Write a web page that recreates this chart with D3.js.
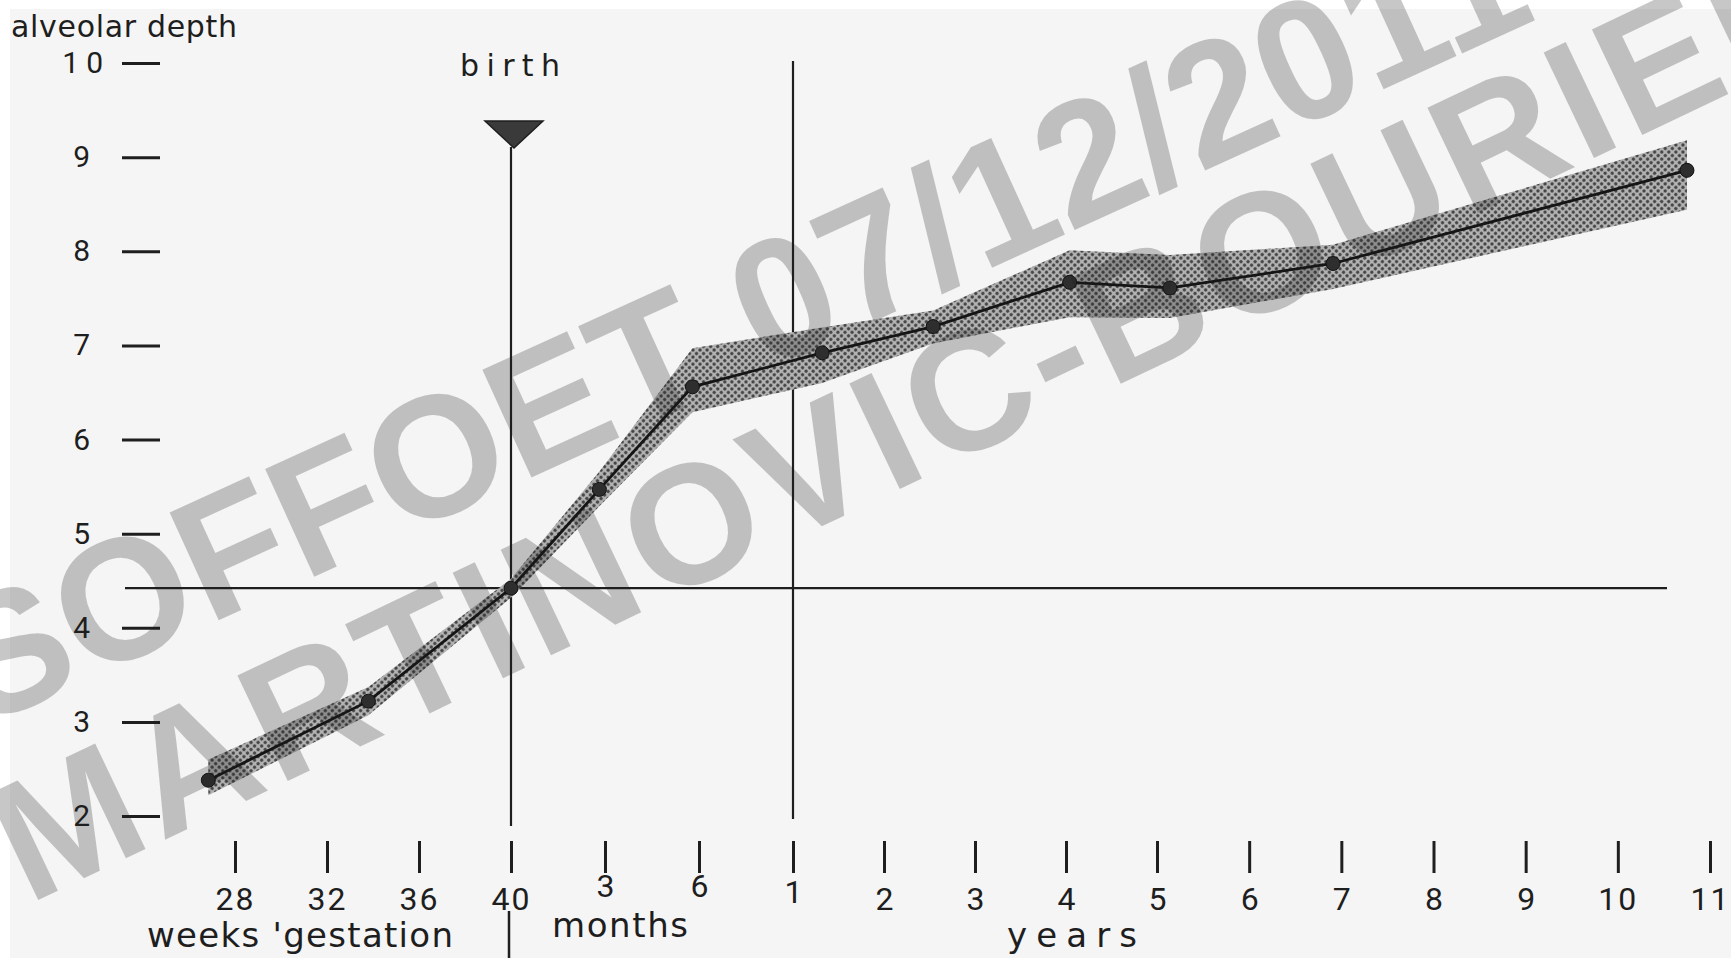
<!DOCTYPE html>
<html>
<head>
<meta charset="utf-8">
<script src="https://cdn.jsdelivr.net/npm/d3@7"></script>
<style>
  html, body { margin: 0; padding: 0; background: #ffffff; }
  svg { display: block; }
  text { font-family: "DejaVu Sans", sans-serif; fill: #1e1e1e; }
</style>
</head>
<body>
<svg id="chart" width="1731" height="958"></svg>
<script>
// ---------- data ----------
const xTickLabels = ["28","32","36","40","3","6","1","2","3","4","5","6","7","8","9","10","11"];
const yTickValues = [2,3,4,5,6,7,8,9,10];
// age position expressed in axis tick units (0 = 28 weeks, 3 = 40 weeks / birth, 6 = 1 year, 16 = 11 years)
const agePos   = [-0.29, 1.45, 3.00, 3.94, 4.93, 6.32, 7.54, 9.04, 10.14, 11.91, 15.75];
const depth    = [2.38, 3.22, 4.42, 5.47, 6.56, 6.92, 7.20, 7.67, 7.61, 7.87, 8.86];
const depthHi  = [2.60, 3.37, 4.52, 5.66, 6.97, 7.19, 7.37, 8.01, 7.96, 8.07, 9.18];
const depthLo  = [2.22, 3.07, 4.32, 5.29, 6.29, 6.60, 7.02, 7.30, 7.29, 7.60, 8.44];
const birthPos = 3;      // 40 weeks
const oneYearPos = 6;    // 1 year
const birthDepth = 4.42;
const yTitle = "alveolar depth";
const xTitles = ["weeks 'gestation", "months", "years"];
const birthLabel = "birth";
const watermark = ["SOFFOET 07/12/2011", "MARTINOVIC-BOURIER"];

// ---------- setup ----------
const svg = d3.select("#chart");
const W = 1731, H = 958;

// hand-drawn axis: tick spacing is not perfectly uniform, so use a polylinear scale
const x = d3.scaleLinear().domain([0, 3, 6, 9, 10, 16]).range([235, 511, 793, 1066, 1157, 1710]);
const y = d3.scaleLinear().domain([2, 10]).range([816, 63]);

// paper
svg.append("rect").attr("x", 0).attr("y", 0).attr("width", W).attr("height", H).attr("fill", "#ffffff");
svg.append("rect").attr("x", 10).attr("y", 9).attr("width", W - 10).attr("height", H - 9).attr("fill", "#f5f5f5");

// halftone pattern for the band
const defs = svg.append("defs");
const pat = defs.append("pattern")
  .attr("id", "halftone").attr("patternUnits", "userSpaceOnUse")
  .attr("width", 5).attr("height", 5)
  .attr("patternTransform", "rotate(45)");
pat.append("rect").attr("width", 5).attr("height", 5).attr("fill", "#b3b3b3");
pat.append("circle").attr("cx", 2.5).attr("cy", 2.5).attr("r", 1.65).attr("fill", "#444444");

// ---------- y axis (dashes + labels) ----------
const yAxis = d3.axisLeft(y).tickValues(yTickValues).tickSize(38).tickPadding(32)
  .tickFormat(d3.format("d"));
const gy = svg.append("g").attr("transform", "translate(160,0)").call(yAxis);
gy.select(".domain").remove();
gy.selectAll(".tick line").attr("stroke", "#1e1e1e").attr("stroke-width", 3);
gy.selectAll(".tick text")
  .attr("font-size", 30).attr("fill", "#1e1e1e")
  .style("font-family", "Roboto, 'DejaVu Sans', sans-serif")
  .attr("dx", d => d === 10 ? 20 : 0)
  .attr("letter-spacing", d => d === 10 ? 7 : 0);

svg.append("text").attr("x", 11).attr("y", 37)
  .attr("font-size", 30).attr("textLength", 226).attr("lengthAdjust", "spacing").text(yTitle);

// ---------- x axis (vertical tick bars + labels) ----------
const xAxis = d3.axisBottom(x).tickValues(d3.range(xTickLabels.length)).tickSize(0)
  .tickFormat(i => xTickLabels[i]).tickPadding(0);
const gx = svg.append("g").attr("transform", "translate(0,841)").call(xAxis);
gx.select(".domain").remove();
gx.selectAll(".tick line").remove();
gx.selectAll(".tick").append("line")
  .attr("x1", 0).attr("x2", 0).attr("y1", 0).attr("y2", 32)
  .attr("stroke", "#1e1e1e").attr("stroke-width", 3);
// month labels sit a little higher in the original lettering
gx.selectAll(".tick text")
  .attr("y", i => (i === 4 || i === 5) ? 56 : (i === 6 ? 62 : 69)).attr("dy", null)
  .attr("font-size", 32).attr("fill", "#1e1e1e")
  .style("font-family", "Roboto, 'DejaVu Sans', sans-serif")
  .attr("letter-spacing", (d) => xTickLabels[d].length > 1 ? 2 : 0);

svg.append("text").attr("x", 147).attr("y", 947).attr("font-size", 34)
  .attr("textLength", 306).attr("lengthAdjust", "spacing").text(xTitles[0]);
svg.append("text").attr("x", 552).attr("y", 937).attr("font-size", 34)
  .attr("textLength", 136).attr("lengthAdjust", "spacing").text(xTitles[1]);
svg.append("text").attr("x", 1007).attr("y", 947).attr("font-size", 34)
  .attr("textLength", 130).attr("lengthAdjust", "spacing").text(xTitles[2]);
// separator under 40
svg.append("line").attr("x1", x(birthPos) - 2).attr("x2", x(birthPos) - 2).attr("y1", 911).attr("y2", 958)
  .attr("stroke", "#1e1e1e").attr("stroke-width", 2.5);

// ---------- reference lines ----------
svg.append("line").attr("x1", 125).attr("x2", 1667).attr("y1", y(birthDepth)).attr("y2", y(birthDepth))
  .attr("stroke", "#1e1e1e").attr("stroke-width", 2.2);
svg.append("line").attr("x1", x(birthPos)).attr("x2", x(birthPos)).attr("y1", 147).attr("y2", 826)
  .attr("stroke", "#1e1e1e").attr("stroke-width", 2.2);
const tx = x(birthPos) + 3;
svg.append("path")
  .attr("d", `M${tx - 29},121 L${tx + 29},121 L${tx},148 Z`)
  .attr("fill", "#3a3a3a").attr("stroke", "#1e1e1e").attr("stroke-width", 1.5);
svg.append("text").attr("x", 460).attr("y", 76)
  .attr("font-size", 30).attr("textLength", 100).attr("lengthAdjust", "spacing").text(birthLabel);
svg.append("line").attr("x1", x(oneYearPos)).attr("x2", x(oneYearPos)).attr("y1", 61).attr("y2", 819)
  .attr("stroke", "#1e1e1e").attr("stroke-width", 2.2);

// ---------- band + line + points ----------
const pts = agePos.map((a, i) => ({ a, v: depth[i], hi: depthHi[i], lo: depthLo[i] }));
const area = d3.area().x(d => x(d.a)).y0(d => y(d.lo)).y1(d => y(d.hi));
svg.append("path").datum(pts).attr("d", area).attr("fill", "url(#halftone)");

const line = d3.line().x(d => x(d.a)).y(d => y(d.v));
svg.append("path").datum(pts).attr("d", line)
  .attr("fill", "none").attr("stroke", "#151515").attr("stroke-width", 2.8);

svg.selectAll("circle.pt").data(pts).join("circle").attr("class", "pt")
  .attr("cx", d => x(d.a)).attr("cy", d => y(d.v)).attr("r", 7)
  .attr("fill", "#2e2e2e").attr("stroke", "#111").attr("stroke-width", 1);

// ---------- watermark ----------
const wm = svg.append("g").attr("pointer-events", "none");
wm.append("text").attr("transform", "translate(-18,728) rotate(-24.5)")
  .attr("font-size", 172).attr("font-weight", "bold")
  .style("font-family", "'Liberation Sans', Arial, sans-serif")
  .attr("fill", "#000").attr("fill-opacity", 0.25).text(watermark[0]);
wm.append("text").attr("transform", "translate(28,905) rotate(-25.5)")
  .attr("font-size", 170).attr("font-weight", "bold").attr("letter-spacing", 6)
  .style("font-family", "'Liberation Sans', Arial, sans-serif")
  .attr("fill", "#000").attr("fill-opacity", 0.25).text(watermark[1]);
</script>
</body>
</html>
